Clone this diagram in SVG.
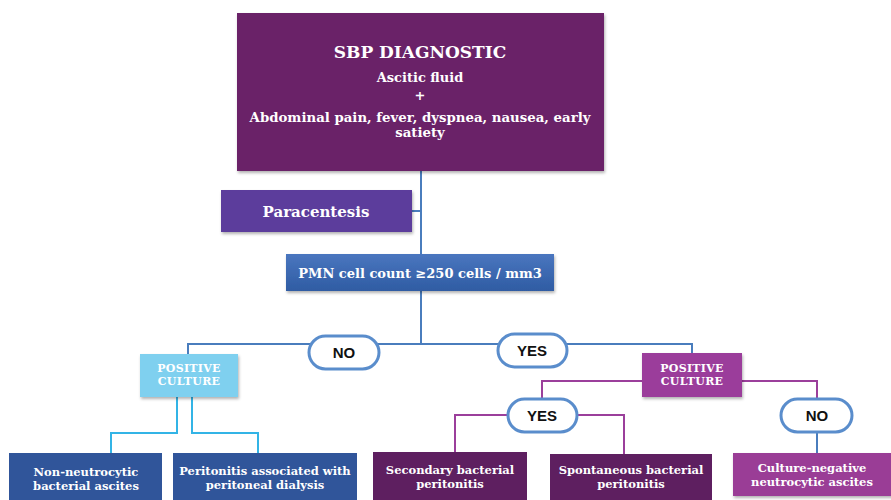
<svg xmlns="http://www.w3.org/2000/svg" width="891" height="500" viewBox="0 0 891 500">
<defs>
<filter id="sh" x="-10%" y="-10%" width="120%" height="130%">
<feDropShadow dx="1" dy="2" stdDeviation="1.5" flood-color="#000" flood-opacity="0.3"/>
</filter>
<linearGradient id="gBlue" x1="0" y1="0" x2="0" y2="1">
<stop offset="0" stop-color="#4a76bf"/>
<stop offset="1" stop-color="#2f5ca3"/>
</linearGradient>
<style>
.st{font-family:"DejaVu Serif","Liberation Serif",serif;font-weight:bold;fill:#fff;text-anchor:middle}
.bt{font-size:11.5px}
.pc{font-size:11px;letter-spacing:0.3px}
.pill{fill:#fff;stroke:#5a8dcc;stroke-width:3}
.pt{font-family:"Liberation Sans","Open Sans",sans-serif;font-weight:bold;font-size:15px;fill:#111;text-anchor:middle}
.cb{fill:none;stroke:#4a7dbd;stroke-width:2}
.cl{fill:none;stroke:#33b4e6;stroke-width:2}
.cp{fill:none;stroke:#9b3f9b;stroke-width:2}
</style>
</defs>
<rect width="891" height="500" fill="#fff"/>
<g id="connectors">
<path class="cb" d="M421 171 V291"/>
<path class="cb" d="M412 211 H421"/>
<path class="cb" d="M421 291 V344"/>
<path class="cb" d="M188 354 V344 H310"/>
<path class="cb" d="M378 344 H499"/>
<path class="cb" d="M566 344 H692 V353"/>
<path class="cl" d="M177 397 V433 H111 V453"/>
<path class="cl" d="M192 397 V433 H258 V453"/>
<path class="cp" d="M642 381 H542 V398"/>
<path class="cp" d="M742 381 H817 V398"/>
<path class="cp" d="M507 415 H455 V452"/>
<path class="cp" d="M578 415 H624 V454"/>
<path class="cb" d="M817 432 V453"/>
</g>
<g id="sbp">
<rect x="237" y="13" width="367" height="158" fill="#6a2268" filter="url(#sh)"/>
<text class="st" x="420" y="58" font-size="17">SBP DIAGNOSTIC</text>
<text class="st" x="420" y="82" font-size="13">Ascitic fluid</text>
<text class="st" x="420" y="100" font-size="13">+</text>
<text class="st" x="420" y="122" font-size="13.3">Abdominal pain, fever, dyspnea, nausea, early</text>
<text class="st" x="420" y="137" font-size="13.3">satiety</text>
</g>
<g id="paracentesis">
<rect x="221" y="190" width="191" height="42" fill="#5b3c9c" filter="url(#sh)"/>
<text class="st" x="316" y="217" font-size="15">Paracentesis</text>
</g>
<g id="pmn">
<rect x="286" y="254" width="268" height="37" fill="url(#gBlue)" filter="url(#sh)"/>
<text class="st" x="420" y="278" font-size="13">PMN cell count ≥250 cells / mm3</text>
</g>
<g id="no1">
<rect class="pill" x="309" y="336" width="70" height="33" rx="16.5"/>
<text class="pt" x="344" y="358">NO</text>
</g>
<g id="yes1">
<rect class="pill" x="498" y="334" width="69" height="33" rx="16.5"/>
<text class="pt" x="532" y="356">YES</text>
</g>
<g id="pc-left">
<rect x="140" y="354" width="98" height="43" fill="#7fd0ef" filter="url(#sh)"/>
<text class="st pc" x="189" y="372" fill="#eef8fd">POSITIVE</text>
<text class="st pc" x="189" y="385" fill="#eef8fd">CULTURE</text>
</g>
<g id="pc-right">
<rect x="642" y="353" width="100" height="44" fill="#9b3e9b" filter="url(#sh)"/>
<text class="st pc" x="692" y="372">POSITIVE</text>
<text class="st pc" x="692" y="385">CULTURE</text>
</g>
<g id="yes2">
<rect class="pill" x="508" y="399" width="69" height="33" rx="16.5"/>
<text class="pt" x="542" y="421">YES</text>
</g>
<g id="no2">
<rect class="pill" x="781" y="399" width="71" height="33" rx="16.5"/>
<text class="pt" x="817" y="421">NO</text>
</g>
<g id="nnba">
<rect x="9" y="453" width="153" height="50" fill="#30559a"/>
<text class="st bt" x="86" y="476">Non-neutrocytic</text>
<text class="st bt" x="86" y="490">bacterial ascites</text>
</g>
<g id="pd">
<rect x="173" y="453" width="184" height="50" fill="#30559a"/>
<text class="st bt" x="265" y="475">Peritonitis associated with</text>
<text class="st bt" x="265" y="489">peritoneal dialysis</text>
</g>
<g id="secondary">
<rect x="373" y="452" width="154" height="51" fill="#5e1f60"/>
<text class="st bt" x="450" y="474">Secondary bacterial</text>
<text class="st bt" x="450" y="488">peritonitis</text>
</g>
<g id="spontaneous">
<rect x="550" y="454" width="162" height="49" fill="#5e1f60"/>
<text class="st bt" x="631" y="474">Spontaneous bacterial</text>
<text class="st bt" x="631" y="488">peritonitis</text>
</g>
<g id="cnna">
<rect x="733" y="453" width="160" height="43" fill="#9a3c96" filter="url(#sh)"/>
<text class="st bt" x="812" y="472">Culture-negative</text>
<text class="st bt" x="812" y="486">neutrocytic ascites</text>
</g>
</svg>
